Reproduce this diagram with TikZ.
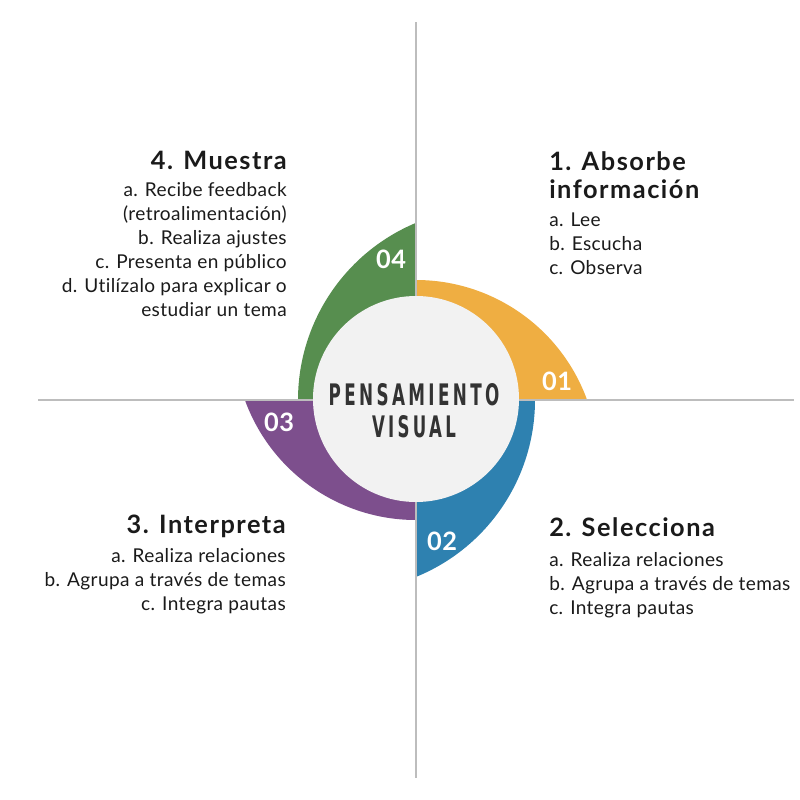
\documentclass[tikz,border=0pt]{standalone}
\usepackage{fontspec}
\setmainfont{Lato}[LetterSpace=2, Ligatures=NoCommon]
\newfontfamily\headfont{Lato}[LetterSpace=6, Ligatures=NoCommon]
\newfontfamily\titlefont[LetterSpace=20]{DejaVu Sans}
\usepackage{xcolor}
\usepackage{tikz}
\usetikzlibrary{positioning}
\definecolor{absorbe}{HTML}{EFAE42}
\definecolor{selecciona}{HTML}{2E81B0}
\definecolor{interpreta}{HTML}{7D4F8D}
\definecolor{muestra}{HTML}{578E4F}
\definecolor{hub}{HTML}{F2F2F2}
\definecolor{rule}{HTML}{BDBDBD}
\definecolor{ink}{HTML}{1A1A1A}
\definecolor{titleink}{HTML}{333333}
\tikzset{
    every node/.style={font=\fontsize{14.3}{17.9}\selectfont, text=ink, inner sep=0pt},
    heading/.style={font=\headfont\fontsize{19}{20.3}\selectfont\bfseries},
    stepnum/.style={font=\fontsize{19}{22}\selectfont\bfseries, text=white, anchor=base},
    quadline/.style={draw=rule, line width=1.5pt}
}

\begin{document}
\begin{tikzpicture}[x=0.75pt,y=-0.75pt]
            \useasboundingbox (0,0) rectangle (800,800);
            \coordinate (c) at (416,400);

            % Draw the four quarter sectors
            \fill[absorbe] (c) -- (416,280) arc[start angle=90, end angle=19.9, radius=136.5pt] -- cycle;
            \fill[selecciona] (c) -- (535,400) arc[start angle=0, end angle=-67.9, radius=143.25pt] -- cycle;
            \fill[interpreta] (c) -- (416,520) arc[start angle=270, end angle=199.9, radius=136.5pt] -- cycle;
            \fill[muestra] (c) -- (298,400) arc[start angle=180, end angle=112.7, radius=144pt] -- cycle;

            % Draw the axes
            \coordinate (top) at (416,22);
            \coordinate (bottom) at (416,778);
            \coordinate (left) at (38,400);
            \coordinate (right) at (794,400);
            \draw[quadline] (top) -- (bottom);
            \draw[quadline] (left) -- (right);

            % Draw the hub
            \fill[hub] (416,399) circle[radius=77.25pt];
            \node[anchor=base, text=titleink] (title1) at (414,405) {\resizebox{128pt}{16.5pt}{\titlefont\bfseries PENSAMIENTO}};
            \node[anchor=base, text=titleink] (title2) at (414,437) {\resizebox{63pt}{16.5pt}{\titlefont\bfseries VISUAL}};

            % Step numbers
            \node[stepnum] (n1) at (557,390) {01};
            \node[stepnum] (n2) at (442,550) {02};
            \node[stepnum] (n3) at (279,431) {03};
            \node[stepnum] (n4) at (391,268) {04};

            % Add the texts (base = last line)
            \node[heading, anchor=base west, align=left] (h1) at (549,198) {1. Absorbe\\información};
            \node[anchor=base west, align=left] (t1) at (549,274) {a. Lee\\b. Escucha\\c. Observa};
            \node[heading, anchor=base west] (h2) at (549,536) {2. Selecciona};
            \node[anchor=base west, align=left] (t2) at (549,614) {a. Realiza relaciones\\b. Agrupa a través de temas\\c. Integra pautas};
            \node[heading, anchor=base east] (h3) at (286,533) {3. Interpreta};
            \node[anchor=base east, align=right] (t3) at (286,610) {a. Realiza relaciones\\b. Agrupa a través de temas\\c. Integra pautas};
            \node[heading, anchor=base east] (h4) at (287,169) {4. Muestra};
            \node[anchor=base east, align=right] (t4) at (287,316) {a. Recibe feedback\\(retroalimentación)\\b. Realiza ajustes\\c. Presenta en público\\d. Utilízalo para explicar o\\estudiar un tema};
        \end{tikzpicture}
\end{document}
